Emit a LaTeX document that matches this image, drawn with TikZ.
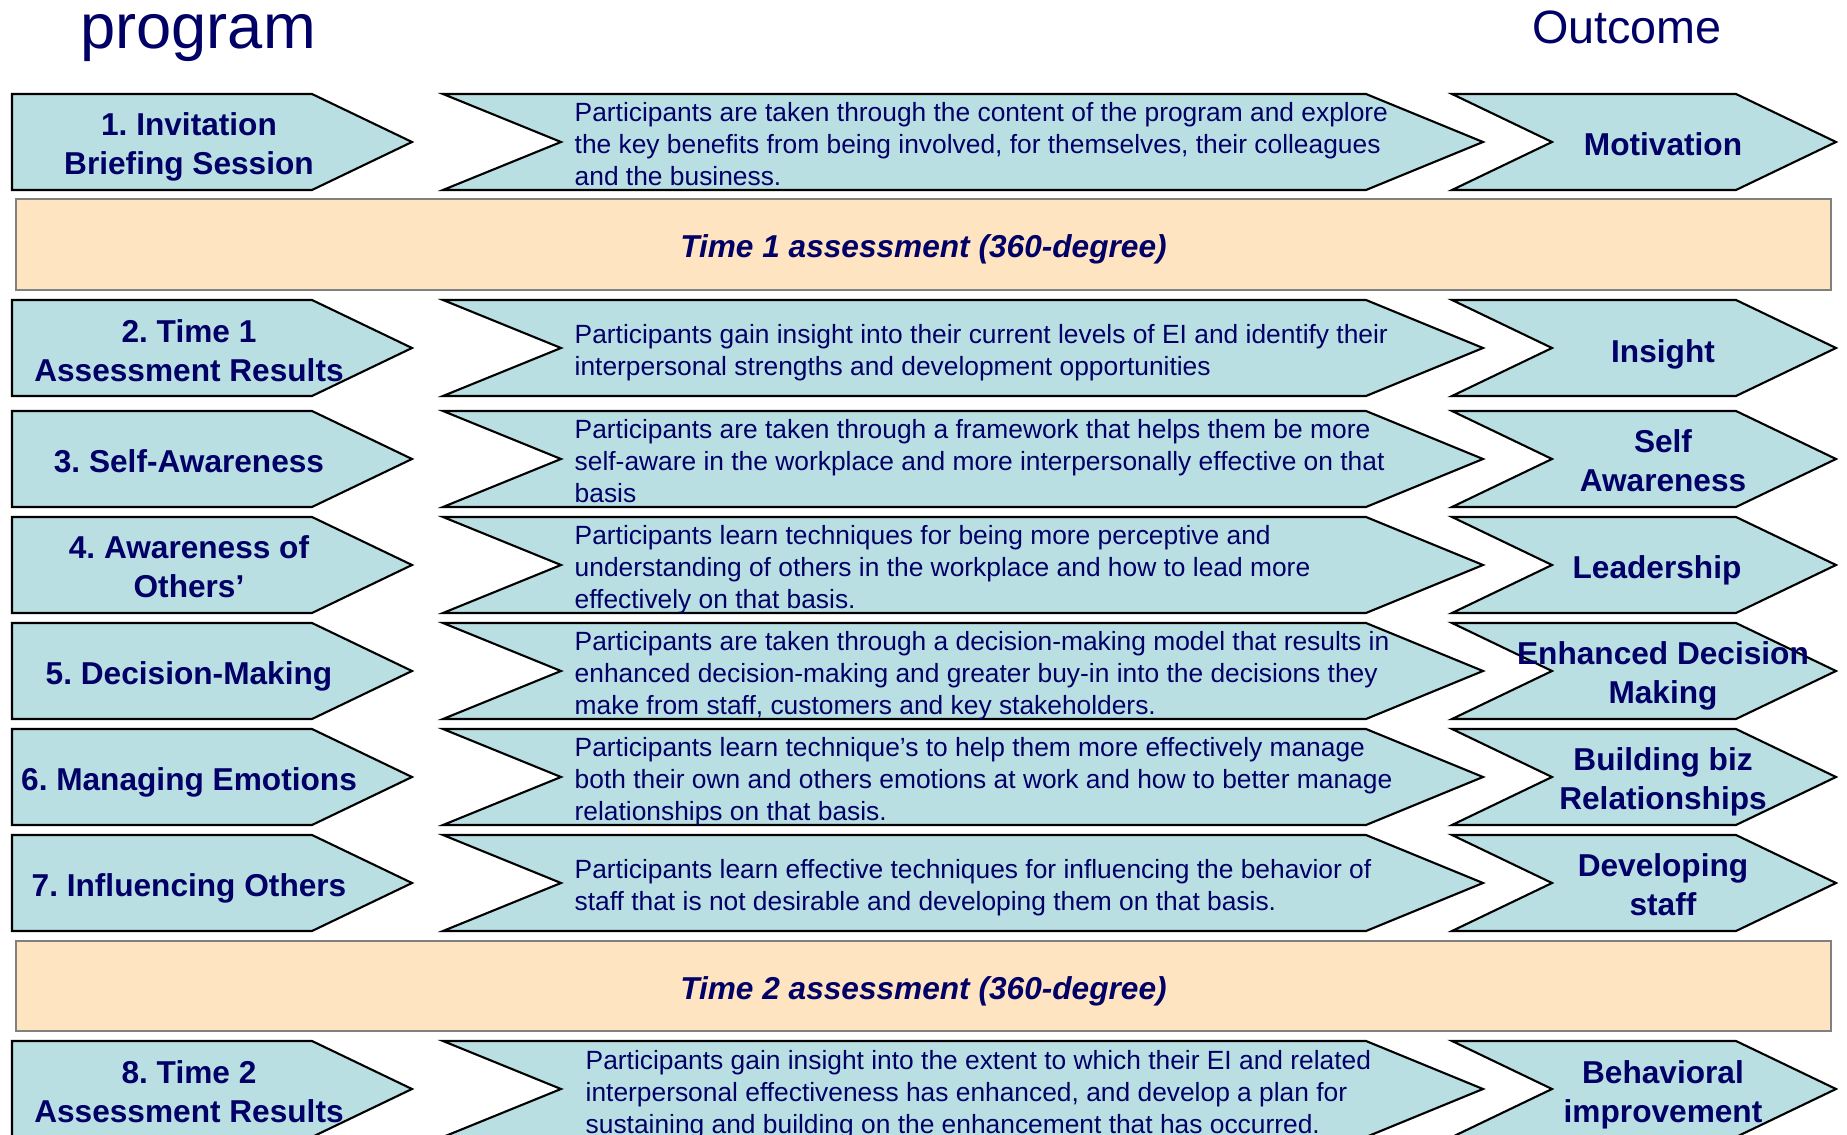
\documentclass[tikz,border=0pt]{standalone}
\usepackage{fontspec}
\setmainfont{Liberation Sans}

\definecolor{navy}{RGB}{0,0,102}
\definecolor{paleteal}{RGB}{185,223,227}
\definecolor{peach}{RGB}{255,228,194}

% struts giving every text line the same ascent and descent
\newcommand{\linetop}{\rule{0pt}{0.905em}}
\newcommand{\linebot}{\rule[-0.212em]{0pt}{0.212em}}

\frenchspacing

\begin{document}
\begin{tikzpicture}[
    stepbox/.style={draw=black, fill=paleteal, line width=0.6pt, line join=miter},
    band/.style={draw=gray, fill=peach, line width=0.5pt},
    heading/.style={anchor=base, text=navy, inner sep=0pt},
    strutted/.style={execute at begin node=\linetop, execute at end node=\linebot},
    stage/.style={strutted, text=navy, align=center, inner sep=0pt, font=\fontsize{9}{11}\selectfont\bfseries},
    detail/.style={strutted, text=navy, align=left, anchor=west, inner sep=0pt, font=\fontsize{7.5}{9.1}\selectfont},
    bandtext/.style={strutted, text=navy, inner sep=0pt, font=\fontsize{9}{11}\selectfont\bfseries\itshape}
]
\useasboundingbox (0,0) rectangle (18.47,-11.35);

% Headings
\node[heading, font=\fontsize{18}{22}\selectfont] (prog) at (1.98,-0.49) {program};
\node[heading, font=\fontsize{13.3}{16}\selectfont] (outc) at (16.27,-0.433) {Outcome};

% Chevrons, one set per row (top edge of each row)
\foreach \t in {0.94,3.00,4.11,5.17,6.23,7.29,8.35,10.41} {
  \draw[stepbox] (0.12,-\t) -- ++(3.00,0) -- ++(1.00,-0.48) -- ++(-1.00,-0.48) -- ++(-3.00,0) -- cycle;
  \draw[stepbox] (4.43,-\t) -- ++(9.23,0) -- ++(1.17,-0.48) -- ++(-1.17,-0.48) -- ++(-9.23,0) -- ++(1.18,0.48) -- cycle;
  \draw[stepbox] (14.52,-\t) -- ++(2.84,0) -- ++(1.00,-0.48) -- ++(-1.00,-0.48) -- ++(-2.84,0) -- ++(1.00,0.48) -- cycle;
}

% Assessment bands
\draw[band] (0.16,-1.99) rectangle (18.31,-2.90);
\draw[band] (0.16,-9.41) rectangle (18.31,-10.31);
\node[bandtext] (time1) at (9.235,-2.47) {Time 1 assessment (360-degree)};
\node[bandtext] (time2) at (9.235,-9.89) {Time 2 assessment (360-degree)};

% Row 1
\node[stage] (step1) at (1.89,-1.47) {1. Invitation\\Briefing Session};
\node[detail] (desc1) at (5.74,-1.467) {Participants are taken through the content of the program and explore\\the key benefits from being involved, for themselves, their colleagues\\and the business.};
\node[stage] (out1) at (16.63,-1.45) {Motivation};

% Row 2
\node[stage] (step2) at (1.89,-3.54) {2. Time 1\\Assessment Results};
\node[detail] (desc2) at (5.74,-3.527) {Participants gain insight into their current levels of EI and identify their\\interpersonal strengths and development opportunities};
\node[stage] (out2) at (16.63,-3.52) {Insight};

% Row 3
\node[stage] (step3) at (1.89,-4.62) {3. Self-Awareness};
\node[detail] (desc3) at (5.74,-4.637) {Participants are taken through a framework that helps them be more\\self-aware in the workplace and more interpersonally effective on that\\basis};
\node[stage] (out3) at (16.63,-4.64) {Self\\Awareness};

% Row 4
\node[stage] (step4) at (1.89,-5.70) {4. Awareness of\\Others’};
\node[detail] (desc4) at (5.74,-5.697) {Participants learn techniques for being more perceptive and\\understanding of others in the workplace and how to lead more\\effectively on that basis.};
\node[stage] (out4) at (16.57,-5.68) {Leadership};

% Row 5
\node[stage] (step5) at (1.89,-6.74) {5. Decision-Making};
\node[detail] (desc5) at (5.74,-6.757) {Participants are taken through a decision-making model that results in\\enhanced decision-making and greater buy-in into the decisions they\\make from staff, customers and key stakeholders.};
\node[stage] (out5) at (16.63,-6.76) {Enhanced Decision\\Making};

% Row 6
\node[stage] (step6) at (1.89,-7.80) {6. Managing Emotions};
\node[detail] (desc6) at (5.74,-7.817) {Participants learn technique’s to help them more effectively manage\\both their own and others emotions at work and how to better manage\\relationships on that basis.};
\node[stage] (out6) at (16.63,-7.82) {Building biz\\Relationships};

% Row 7
\node[stage] (step7) at (1.89,-8.86) {7. Influencing Others};
\node[detail] (desc7) at (5.74,-8.877) {Participants learn effective techniques for influencing the behavior of\\staff that is not desirable and developing them on that basis.};
\node[stage] (out7) at (16.63,-8.88) {Developing\\staff};

% Row 8
\node[stage] (step8) at (1.89,-10.95) {8. Time 2\\Assessment Results};
\node[detail] (desc8) at (5.85,-10.945) {Participants gain insight into the extent to which their EI and related\\interpersonal effectiveness has enhanced, and develop a plan for\\sustaining and building on the enhancement that has occurred.};
\node[stage] (out8) at (16.63,-10.95) {Behavioral\\improvement};

\end{tikzpicture}
\end{document}
